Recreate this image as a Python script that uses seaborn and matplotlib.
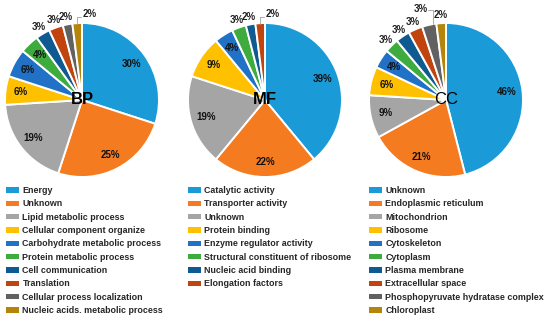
import numpy as np
import seaborn as sns
import matplotlib.pyplot as plt
from matplotlib.patches import Patch

sns.set_style("white")
plt.rcParams['font.family'] = ['Liberation Sans', 'DejaVu Sans']

# data
bp_labels = ['Energy', 'Unknown', 'Lipid metabolic process', 'Cellular component organize',
             'Carbohydrate metabolic process', 'Protein metabolic process', 'Cell communication',
             'Translation', 'Cellular process localization', 'Nucleic acids. metabolic process']
bp_values = [30, 25, 19, 6, 6, 4, 3, 3, 2, 2]

mf_labels = ['Catalytic activity', 'Transporter activity', 'Unknown', 'Protein binding',
             'Enzyme regulator activity', 'Structural constituent of ribosome',
             'Nucleic acid binding', 'Elongation factors']
mf_values = [39, 22, 19, 9, 4, 3, 2, 2]

cc_labels = ['Unknown', 'Endoplasmic reticulum', 'Mitochondrion', 'Ribosome', 'Cytoskeleton',
             'Cytoplasm', 'Plasma membrane', 'Extracellular space',
             'Phosphopyruvate hydratase complex', 'Chloroplast']
cc_values = [46, 21, 9, 6, 4, 3, 3, 3, 3, 2]

palette = sns.color_palette(['#1A9AD7', '#F47B20', '#A5A5A5', '#FFC000', '#2171C7',
                             '#3DAB3D', '#0E5A91', '#C1440E', '#616161', '#B5850B'])


def draw_pie(ax, values, labels, title, title_weight, leader_idx, leader_side, legend_x):
    cols = palette[:len(values)]
    wedges, _ = ax.pie(values, colors=cols, startangle=90, counterclock=False,
                       wedgeprops=dict(edgecolor='white', linewidth=1.4))
    ax.set_xlim(-1, 1)
    ax.set_ylim(-1, 1)
    ax.set_aspect('equal')
    ax.axis('off')

    for i, (w, v) in enumerate(zip(wedges, values)):
        mid = np.deg2rad((w.theta1 + w.theta2) / 2)
        cx, cy = np.cos(mid), np.sin(mid)
        txt = f'{v}%'
        if i == leader_idx:
            # small slice label pulled aside with a leader line
            if leader_side == 'right':
                ax.plot([cx, cx, cx + 0.05], [0.99, 1.08, 1.08], color='#A0A0A0', lw=0.6, clip_on=False)
                ax.text(cx + 0.07, 1.12, txt, ha='left', va='center', fontsize=7,
                        fontweight='bold', color='#222222', clip_on=False)
            else:
                ax.plot([cx + 0.05, cx + 0.05, cx - 0.01], [0.99, 1.17, 1.17], color='#A0A0A0', lw=0.6, clip_on=False)
                ax.text(cx - 0.02, 1.18, txt, ha='right', va='center', fontsize=7,
                        fontweight='bold', color='#222222', clip_on=False)
        elif v >= 4:
            ax.text(0.8 * cx, 0.8 * cy, txt, ha='center', va='center', fontsize=7,
                    fontweight='bold', color='#111111')
        else:
            ax.text(1.1 * cx, 1.1 * cy, txt, ha='center', va='center', fontsize=7,
                    fontweight='bold', color='#222222', clip_on=False)

    ax.text(0, 0, title, ha='center', va='center', fontsize=12, fontweight=title_weight, color='black')

    handles = [Patch(facecolor=c, edgecolor='none') for c in cols]
    ax.figure.legend(handles, labels, loc='upper left', bbox_to_anchor=(legend_x, 1 - 186 / 324),
                     frameon=False, prop=dict(weight='bold', size=6.4),
                     handlelength=1.5, handleheight=0.55, handletextpad=0.35,
                     labelspacing=0.49, borderpad=0, borderaxespad=0)


fig = plt.figure(figsize=(5.5, 3.24), dpi=100)
r = 77
for cx, vals, labs, title, tw, lidx, side, lx in [
        (82, bp_values, bp_labels, 'BP', 'bold', 9, 'right', 6 / 550),
        (265, mf_values, mf_labels, 'MF', 'bold', 7, 'right', 188 / 550),
        (446, cc_values, cc_labels, 'CC', 'normal', 8, 'left', 369 / 550)]:
    ax = fig.add_axes([(cx - r) / 550, 1 - (100 + r) / 324, 2 * r / 550, 2 * r / 324])
    draw_pie(ax, vals, labs, title, tw, lidx, side, lx)

fig.savefig('out.png', dpi=100)
